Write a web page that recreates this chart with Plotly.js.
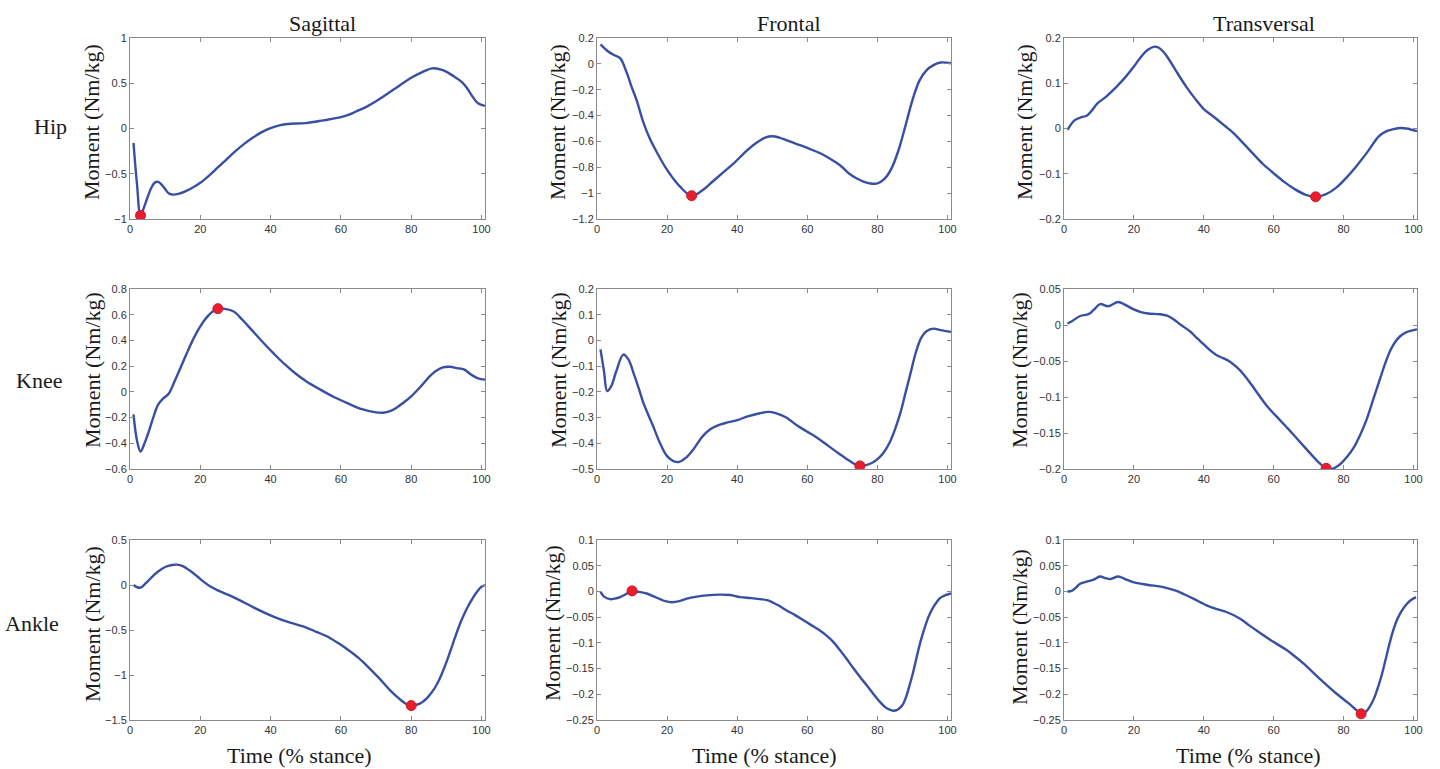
<!DOCTYPE html>
<html>
<head>
<meta charset="utf-8">
<script src="https://cdn.plot.ly/plotly-3.0.1.min.js"></script>
<style>html,body{margin:0;padding:0;background:#fff;}#chart{width:1440px;height:769px;}</style>
</head>
<body>
<div id="chart"></div>
<script>
// ---------- DATA ----------
const columnTitles = ["Sagittal", "Frontal", "Transversal"];
const rowTitles = ["Hip", "Knee", "Ankle"];
const yTitle = "Moment (Nm/kg)";
const xTitle = "Time (% stance)";
const xTicks = [0, 20, 40, 60, 80, 100];

const hipSagX = [1, 2, 3, 4, 5, 6, 7, 8, 9, 10, 11, 12, 14, 16, 18, 20, 22.5, 25, 27.5, 30, 32.5, 35, 37.5, 40, 42.5, 45, 50, 55, 60, 62.5, 65, 67.5, 70, 75, 80, 83, 86, 89, 92, 94.5, 96, 97.5, 99, 101];
const hipSagY = [-0.16, -0.62, -0.96, -0.87, -0.76, -0.66, -0.60, -0.59, -0.62, -0.67, -0.715, -0.73, -0.72, -0.69, -0.65, -0.60, -0.52, -0.43, -0.34, -0.25, -0.17, -0.10, -0.04, 0.005, 0.035, 0.05, 0.06, 0.09, 0.125, 0.155, 0.20, 0.245, 0.30, 0.43, 0.56, 0.62, 0.665, 0.645, 0.58, 0.51, 0.44, 0.35, 0.28, 0.25];

const hipFrontX = [1, 3, 4.7, 6.6, 8.5, 9.9, 11.3, 13.2, 15.1, 17, 20, 23.7, 27, 30, 33, 36, 39, 42, 45, 48, 50, 52, 54, 57, 60, 64, 68, 70, 72, 74, 76, 78, 80, 82, 84, 86, 88, 90, 92, 94, 96, 98, 101];
const hipFrontY = [0.15, 0.10, 0.07, 0.045, -0.07, -0.18, -0.28, -0.45, -0.58, -0.68, -0.82, -0.95, -1.02, -0.98, -0.91, -0.84, -0.77, -0.69, -0.62, -0.57, -0.56, -0.57, -0.59, -0.62, -0.65, -0.695, -0.76, -0.80, -0.85, -0.885, -0.91, -0.925, -0.925, -0.89, -0.81, -0.67, -0.48, -0.28, -0.13, -0.05, -0.01, 0.01, 0.005];

const hipTransX = [1, 3, 5, 6.5, 8, 9.5, 12, 15, 17.5, 20, 22, 24, 26, 27, 28.5, 30, 32, 35, 37.5, 40, 43, 46, 48.5, 51, 54, 57, 60, 63, 66, 69, 72, 75, 78, 81, 84, 87, 90, 92, 94, 96, 98, 101];
const hipTransY = [-0.003, 0.018, 0.025, 0.028, 0.04, 0.055, 0.07, 0.092, 0.113, 0.137, 0.158, 0.174, 0.181, 0.179, 0.169, 0.153, 0.128, 0.092, 0.066, 0.043, 0.025, 0.006, -0.01, -0.03, -0.055, -0.079, -0.099, -0.118, -0.134, -0.146, -0.151, -0.145, -0.13, -0.107, -0.08, -0.05, -0.018, -0.007, -0.002, 0.001, 0.0, -0.006];

const kneeSagX = [1, 2, 3, 4, 5.2, 6.5, 8, 9.5, 11, 12.5, 14.2, 16, 18, 20, 22, 24, 25, 27, 29.5, 32, 35, 38, 41, 44, 47, 50, 54, 58, 62, 66, 70, 72, 74, 76, 78, 80, 83, 86, 89, 91, 93, 95, 97, 99, 101];
const kneeSagY = [-0.175, -0.38, -0.465, -0.41, -0.32, -0.21, -0.10, -0.05, -0.015, 0.07, 0.176, 0.29, 0.41, 0.51, 0.585, 0.635, 0.647, 0.645, 0.625, 0.56, 0.47, 0.38, 0.295, 0.215, 0.145, 0.085, 0.02, -0.04, -0.09, -0.135, -0.16, -0.162, -0.15, -0.12, -0.08, -0.035, 0.05, 0.14, 0.19, 0.195, 0.185, 0.175, 0.135, 0.105, 0.095];

const kneeFrontX = [1, 2, 2.9, 4, 5.5, 7.5, 9, 10.4, 12, 13.2, 14.5, 16, 18, 20, 21.8, 23.5, 25.5, 27.5, 30, 32.2, 34.5, 37, 40, 43, 46.5, 49, 51, 54, 57, 60, 63, 66, 69, 72, 74.8, 77, 78.8, 80.5, 82, 83.5, 85, 86.5, 88, 89.5, 91, 92.5, 94, 96, 98, 101];
const kneeFrontY = [-0.035, -0.12, -0.197, -0.18, -0.12, -0.055, -0.075, -0.126, -0.19, -0.242, -0.285, -0.333, -0.40, -0.45, -0.469, -0.472, -0.455, -0.424, -0.375, -0.346, -0.33, -0.32, -0.31, -0.295, -0.283, -0.278, -0.283, -0.30, -0.33, -0.355, -0.38, -0.41, -0.44, -0.468, -0.488, -0.484, -0.474, -0.456, -0.432, -0.397, -0.347, -0.285, -0.205, -0.125, -0.045, 0.01, 0.036, 0.046, 0.04, 0.033];

const kneeTransX = [1, 2.5, 4.6, 7, 8.5, 10.3, 12.7, 15.5, 17.5, 19.8, 22, 24, 27.5, 29.5, 31.3, 33.5, 36.1, 38, 40, 42, 43.7, 45.5, 47.5, 49.5, 51.3, 53.5, 56, 58.5, 61, 63.5, 65.6, 68, 70.4, 72.7, 75, 76.5, 78, 79.5, 81, 82.8, 84.7, 86.6, 88.5, 90.4, 92, 93.3, 94.7, 96.1, 98, 101];
const kneeTransY = [0.002, 0.006, 0.0125, 0.015, 0.021, 0.029, 0.026, 0.032, 0.028, 0.022, 0.018, 0.016, 0.015, 0.013, 0.008, 0.0, -0.009, -0.018, -0.027, -0.036, -0.042, -0.046, -0.051, -0.059, -0.068, -0.082, -0.099, -0.115, -0.128, -0.141, -0.152, -0.165, -0.178, -0.19, -0.199, -0.2, -0.197, -0.191, -0.183, -0.171, -0.153, -0.131, -0.103, -0.075, -0.052, -0.036, -0.024, -0.016, -0.01, -0.006];

const ankleSagX = [1, 2, 3, 4.5, 6, 8, 10, 12, 13.3, 15, 17, 19, 21, 23, 25, 28, 31, 35, 39, 43, 47, 50, 53, 56, 59, 62, 65, 68, 71, 74, 76.5, 78.5, 80, 82, 83, 84, 85, 86, 87, 88, 89, 90, 91, 92.5, 94, 95, 96, 97, 98, 99, 100, 101];
const ankleSagY = [0.0, -0.025, -0.03, 0.02, 0.08, 0.15, 0.2, 0.222, 0.226, 0.21, 0.16, 0.1, 0.035, -0.02, -0.06, -0.11, -0.165, -0.245, -0.32, -0.385, -0.435, -0.47, -0.52, -0.57, -0.64, -0.72, -0.81, -0.92, -1.04, -1.17, -1.26, -1.32, -1.34, -1.325, -1.305, -1.275, -1.235, -1.185, -1.125, -1.05, -0.96, -0.86, -0.75, -0.58, -0.42, -0.33, -0.25, -0.18, -0.115, -0.06, -0.02, 0.0];

const ankleFrontX = [1, 2, 3.7, 5, 6.6, 8.3, 9.9, 12, 14.2, 16, 18, 19.5, 21.3, 23.5, 25.6, 28.5, 31.3, 35, 38, 40.8, 44, 46.5, 48.5, 50.3, 52, 54.1, 56.5, 58.9, 61, 63.6, 65.5, 67.4, 69.3, 71.2, 73, 75, 77, 78.8, 80.5, 82.2, 83.5, 84.5, 85.5, 86.5, 87.4, 88.3, 89.2, 90.2, 91.2, 92.2, 93.1, 94, 95, 96, 97, 98, 99.3, 101];
const ankleFrontY = [-0.001, -0.01, -0.015, -0.014, -0.011, -0.005, 0.001, -0.001, -0.004, -0.009, -0.015, -0.019, -0.021, -0.019, -0.014, -0.01, -0.0076, -0.0063, -0.007, -0.011, -0.013, -0.015, -0.017, -0.022, -0.028, -0.037, -0.046, -0.056, -0.065, -0.076, -0.086, -0.098, -0.114, -0.131, -0.148, -0.166, -0.183, -0.199, -0.213, -0.225, -0.23, -0.232, -0.231, -0.226, -0.218, -0.203, -0.182, -0.157, -0.128, -0.100, -0.079, -0.060, -0.043, -0.030, -0.020, -0.012, -0.0076, -0.004];

const ankleTransX = [1, 2.2, 3.5, 4.6, 7, 8.5, 10.3, 11.8, 13.2, 15.5, 17.5, 19.8, 23.7, 28.4, 32.2, 34.5, 37, 40.8, 43.5, 46.5, 50.4, 53, 55.1, 59.9, 63.7, 66, 68.5, 73.2, 78, 81.9, 83.5, 85, 86, 87, 88, 89, 90, 91, 92, 93, 94, 95, 96, 97, 98, 99, 100.7];
const ankleTransY = [0, 0.001, 0.008, 0.015, 0.02, 0.023, 0.029, 0.026, 0.024, 0.029, 0.024, 0.018, 0.013, 0.0085, 0.001, -0.006, -0.014, -0.027, -0.034, -0.04, -0.053, -0.066, -0.076, -0.098, -0.114, -0.126, -0.14, -0.17, -0.199, -0.22, -0.23, -0.238, -0.236, -0.229, -0.218, -0.203, -0.183, -0.16, -0.133, -0.105, -0.08, -0.06, -0.045, -0.034, -0.025, -0.018, -0.011];

// extreme points (red markers), order: hip S/F/T, knee S/F/T, ankle S/F/T
const peakX = [3, 27, 72, 25, 75, 75, 80, 10, 85];
const peakY = [-0.96, -1.02, -0.151, 0.647, -0.488, -0.199, -1.34, 0.001, -0.238];

// y tick values per panel
const yTicksHipSag = [-1, -0.5, 0, 0.5, 1];
const yTicksHipFront = [-1.2, -1, -0.8, -0.6, -0.4, -0.2, 0, 0.2];
const yTicksHipTrans = [-0.2, -0.1, 0, 0.1, 0.2];
const yTicksKneeSag = [-0.6, -0.4, -0.2, 0, 0.2, 0.4, 0.6, 0.8];
const yTicksKneeFront = [-0.5, -0.4, -0.3, -0.2, -0.1, 0, 0.1, 0.2];
const yTicksKneeTrans = [-0.2, -0.15, -0.1, -0.05, 0, 0.05];
const yTicksAnkleSag = [-1.5, -1, -0.5, 0, 0.5];
const yTicksAnkleFront = [-0.25, -0.2, -0.15, -0.1, -0.05, 0, 0.05, 0.1];
const yTicksAnkleTrans = [-0.25, -0.2, -0.15, -0.1, -0.05, 0, 0.05, 0.1];

// ---------- LAYOUT ----------
const W = 1440, H = 769;
const seriesX = [hipSagX, hipFrontX, hipTransX, kneeSagX, kneeFrontX, kneeTransX, ankleSagX, ankleFrontX, ankleTransX];
const seriesY = [hipSagY, hipFrontY, hipTransY, kneeSagY, kneeFrontY, kneeTransY, ankleSagY, ankleFrontY, ankleTransY];
const yTicks = [yTicksHipSag, yTicksHipFront, yTicksHipTrans, yTicksKneeSag, yTicksKneeFront, yTicksKneeTrans, yTicksAnkleSag, yTicksAnkleFront, yTicksAnkleTrans];

const colPx = [[130, 485], [597, 951], [1064, 1417]];
const rowPx = [[38, 219], [289, 469], [540, 720]];

const lineColor = 'rgb(56,80,162)';
const frameColor = '#8a8a8a';
const tickFont = {family: 'Liberation Sans, Arial, sans-serif', size: 11, color: '#333'};
const serif = 'Liberation Serif, Times New Roman, serif';

const fmt = v => String(v).replace('-', '\u2212');

const traces = [];
const layout = {
  width: W, height: H,
  margin: {l: 0, r: 0, t: 0, b: 0},
  paper_bgcolor: '#fff', plot_bgcolor: '#fff',
  showlegend: false,
  annotations: []
};

for (let i = 0; i < 9; i++) {
  const r = Math.floor(i / 3), c = i % 3;
  const sfx = i === 0 ? '' : String(i + 1);
  traces.push({
    x: seriesX[i], y: seriesY[i], type: 'scatter', mode: 'lines',
    line: {color: lineColor, width: 2.4, shape: 'spline', smoothing: 1.0},
    xaxis: 'x' + sfx, yaxis: 'y' + sfx, hoverinfo: 'skip'
  });
  traces.push({
    x: [peakX[i]], y: [peakY[i]], type: 'scatter', mode: 'markers',
    marker: {color: 'rgb(232,30,48)', size: 10, line: {color: 'rgb(210,25,40)', width: 1}},
    xaxis: 'x' + sfx, yaxis: 'y' + sfx, hoverinfo: 'skip'
  });
  const yt = yTicks[i];
  const common = {
    showline: true, mirror: 'ticks', linecolor: frameColor, linewidth: 1,
    ticks: 'inside', ticklen: 4, tickcolor: frameColor, tickwidth: 1,
    showgrid: false, zeroline: false, tickfont: tickFont, fixedrange: true
  };
  layout['xaxis' + sfx] = Object.assign({}, common, {
    domain: [colPx[c][0] / W, colPx[c][1] / W],
    anchor: 'y' + sfx, range: [0, 101],
    tickmode: 'array', tickvals: xTicks, ticktext: xTicks.map(fmt)
  });
  layout['yaxis' + sfx] = Object.assign({}, common, {
    domain: [1 - rowPx[r][1] / H, 1 - rowPx[r][0] / H],
    anchor: 'x' + sfx, range: [yt[0], yt[yt.length - 1]],
    tickmode: 'array', tickvals: yt, ticktext: yt.map(fmt)
  });
}

// text placement (pixel centres)
const colTitlePos = [[322, 23], [789, 23], [1264, 23]];
const rowTitlePos = [[50, 127], [39, 380], [32, 623]];
const yTitlePos = [
  [92, 122], [558, 122], [1025, 122],
  [92, 370], [558, 370], [1019, 370],
  [92, 624], [552, 623], [1019, 627]
];
const xTitlePos = [[299, 755], [764, 755], [1248, 755]];

const ann = (txt, p, angle) => ({
  text: txt, xref: 'paper', yref: 'paper', x: p[0] / W, y: 1 - p[1] / H,
  xanchor: 'center', yanchor: 'middle', showarrow: false, textangle: angle || 0,
  font: {family: serif, size: 22, color: '#1a1a1a'}
});
columnTitles.forEach((t, k) => layout.annotations.push(ann(t, colTitlePos[k])));
rowTitles.forEach((t, k) => layout.annotations.push(ann(t, rowTitlePos[k])));
yTitlePos.forEach(p => layout.annotations.push(ann(yTitle, p, -90)));
xTitlePos.forEach(p => layout.annotations.push(ann(xTitle, p)));

Plotly.newPlot('chart', traces, layout, {displayModeBar: false, staticPlot: true});
</script>
</body>
</html>
